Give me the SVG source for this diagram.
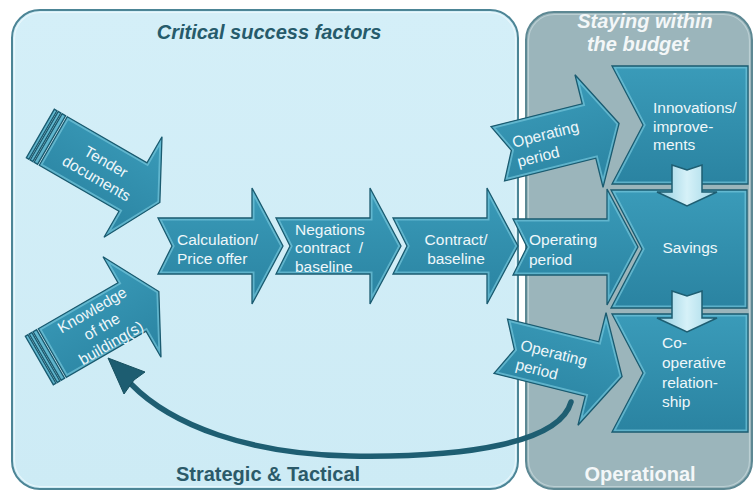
<svg xmlns="http://www.w3.org/2000/svg" width="755" height="492" viewBox="0 0 755 492">
  <defs>
    <linearGradient id="gBlk" x1="0" y1="0" x2="0" y2="1">
      <stop offset="0" stop-color="#3a9bb9"/>
      <stop offset="1" stop-color="#2a83a1"/>
    </linearGradient>
    <linearGradient id="gLight" x1="0" y1="0" x2="1" y2="0">
      <stop offset="0" stop-color="#8fcde0"/>
      <stop offset="0.5" stop-color="#d6f1f8"/>
      <stop offset="1" stop-color="#9ed6e6"/>
    </linearGradient>
    <linearGradient id="gLeftPanel" x1="0" y1="0" x2="0" y2="1">
      <stop offset="0" stop-color="#d4eff8"/>
      <stop offset="1" stop-color="#cdebf5"/>
    </linearGradient>

    <!-- base outlines -->
    <path id="notched" d="M-94,-28 L0,-28 L0,-58 L31,0 L0,58 L0,28 L-94,28 L-80,0 Z"/>
    <path id="stBody" d="M-92,-28 L0,-28 L0,-58 L31,0 L0,58 L0,28 L-92,28 Z"/>
    <rect id="st1" x="-98" y="-28" width="4" height="56"/>
    <rect id="st2" x="-102.5" y="-28" width="3" height="56"/>
    <rect id="st3" x="-107" y="-28" width="3" height="56"/>
    <path id="box" d="M0,0 L136,0 L136,118 L0,118 L31,59 Z"/>
    <path id="down" d="M-15,0 L0,5 L15,0 L15,27 L30,27 L0,41 L-30,27 L-15,27 Z"/>

    <clipPath id="cN"><use href="#notched"/></clipPath>
    <clipPath id="cB"><use href="#box"/></clipPath>
    <clipPath id="cS"><use href="#stBody"/><use href="#st1"/><use href="#st2"/><use href="#st3"/></clipPath>

    <!-- bevelled block arrow -->
    <g id="notchedArrow">
      <use href="#notched" class="f"/>
      <use href="#notched" class="rim" clip-path="url(#cN)"/>
      <use href="#notched" class="edge"/>
    </g>
    <!-- bevelled striped arrow -->
    <g id="stripedArrow">
      <g class="f"><use href="#stBody"/><use href="#st1"/><use href="#st2"/><use href="#st3"/></g>
      <g class="rim" clip-path="url(#cS)"><use href="#stBody"/><use href="#st1"/><use href="#st2"/><use href="#st3"/></g>
      <g class="edge"><use href="#stBody"/><use href="#st1"/><use href="#st2"/><use href="#st3"/></g>
    </g>
    <!-- bevelled notched box -->
    <g id="notchedBox">
      <use href="#box" class="f"/>
      <use href="#box" class="rim" clip-path="url(#cB)"/>
      <use href="#box" class="edge"/>
    </g>
  </defs>
  <style>
    .f { fill: url(#gBlk); stroke: none; }
    .rim { fill: none; stroke: #74c4da; stroke-width: 5; stroke-opacity: 0.7; }
    .edge { fill: none; stroke: #1a5b70; stroke-width: 1.3; }
    .lbl { font-family: "Liberation Sans", Arial, sans-serif; font-size: 15.5px; fill: #eef7fa; }
    .title { font-family: "Liberation Sans", Arial, sans-serif; font-size: 20px; font-weight: bold; }
    .dn { fill: url(#gLight); stroke: #1e5e72; stroke-width: 1.5; }
  </style>

  <!-- panels -->
  <g id="panel-strategic">
    <rect x="12" y="10" width="506" height="479" rx="28" fill="url(#gLeftPanel)" stroke="#4c8596" stroke-width="2"/>
    <rect x="14.5" y="12.5" width="501" height="474" rx="26" fill="none" stroke="#eef9fc" stroke-width="1.2" stroke-opacity="0.8"/>
    <text class="title" x="269" y="39" text-anchor="middle" font-style="italic" fill="#265b6b">Critical success factors</text>
    <text class="title" x="268" y="481" text-anchor="middle" fill="#2b5a69">Strategic &amp; Tactical</text>
  </g>
  <g id="panel-operational">
    <rect x="526" y="12" width="226" height="477" rx="28" fill="#9bb5bb" stroke="#5d8893" stroke-width="2"/>
    <rect x="528.5" y="14.5" width="221" height="472" rx="26" fill="none" stroke="#c3d6da" stroke-width="1.2" stroke-opacity="0.8"/>
    <text class="title" x="645" y="28" text-anchor="middle" font-style="italic" fill="#f3f7f8">Staying within</text>
    <text class="title" x="638" y="51" text-anchor="middle" font-style="italic" fill="#f3f7f8">the budget</text>
    <text class="title" x="640" y="481" text-anchor="middle" fill="#f3f7f8">Operational</text>
  </g>

  <!-- connectors -->
  <g id="connectors">
    <path d="M571,402 C560,442 470,458 350,456 C250,454 172,426 131,384" fill="none" stroke="#1e5e72" stroke-width="5.5" stroke-linecap="round"/>
    <path d="M108,358 L145,372 L134,380 L124,394 Z" fill="#1d5d71" stroke="#17505f" stroke-width="1"/>
  </g>

  <!-- right column boxes -->
  <g id="innovations">
    <use href="#notchedBox" transform="translate(612,66)"/>
    <text class="lbl" x="653" y="113">Innovations/</text>
    <text class="lbl" x="653" y="132">improve-</text>
    <text class="lbl" x="653" y="150">ments</text>
  </g>
  <g id="savings">
    <use href="#notchedBox" transform="translate(611,190)"/>
    <text class="lbl" x="690" y="253" text-anchor="middle">Savings</text>
  </g>
  <g id="cooperative">
    <use href="#notchedBox" transform="translate(612,314)"/>
    <text class="lbl" x="662" y="348">Co-</text>
    <text class="lbl" x="662" y="368">operative</text>
    <text class="lbl" x="662" y="388">relation-</text>
    <text class="lbl" x="662" y="407">ship</text>
  </g>
  <g id="down-arrows">
    <use href="#down" class="dn" transform="translate(687,165)"/>
    <use href="#down" class="dn" transform="translate(687,291)"/>
  </g>

  <!-- inputs -->
  <g id="tender" transform="translate(133,187) rotate(30)">
    <use href="#stripedArrow"/>
    <text class="lbl" x="-36" y="-3" text-anchor="middle">Tender</text>
    <text class="lbl" x="-36" y="16" text-anchor="middle">documents</text>
  </g>
  <g id="knowledge" transform="translate(132,307) rotate(-30)">
    <use href="#stripedArrow"/>
    <text class="lbl" x="-36" y="-12" text-anchor="middle">Knowledge</text>
    <text class="lbl" x="-36" y="7" text-anchor="middle">of the</text>
    <text class="lbl" x="-36" y="26" text-anchor="middle">building(s)</text>
  </g>

  <!-- main process chain -->
  <g id="calculation" transform="translate(252,246)">
    <use href="#notchedArrow"/>
    <text class="lbl" x="-75" y="-1">Calculation/</text>
    <text class="lbl" x="-75" y="18">Price offer</text>
  </g>
  <g id="negations" transform="translate(370,246)">
    <use href="#notchedArrow"/>
    <text class="lbl" x="-75" y="-11">Negations</text>
    <text class="lbl" x="-75" y="7" xml:space="preserve">contract  /</text>
    <text class="lbl" x="-75" y="26">baseline</text>
  </g>
  <g id="contract" transform="translate(487,246)">
    <use href="#notchedArrow"/>
    <text class="lbl" x="-31" y="-1" text-anchor="middle">Contract/</text>
    <text class="lbl" x="-31" y="18" text-anchor="middle">baseline</text>
  </g>
  <g id="operating-mid" transform="translate(607,247)">
    <use href="#notchedArrow"/>
    <text class="lbl" x="-78" y="-2">Operating</text>
    <text class="lbl" x="-78" y="18">period</text>
  </g>
  <g id="operating-up" transform="translate(589,131) rotate(-14)">
    <use href="#notchedArrow"/>
    <text class="lbl" x="-77" y="-2">Operating</text>
    <text class="lbl" x="-77" y="18">period</text>
  </g>
  <g id="operating-low" transform="translate(592,369) rotate(14)">
    <use href="#notchedArrow"/>
    <text class="lbl" x="-75" y="-1">Operating</text>
    <text class="lbl" x="-75" y="19">period</text>
  </g>
</svg>
